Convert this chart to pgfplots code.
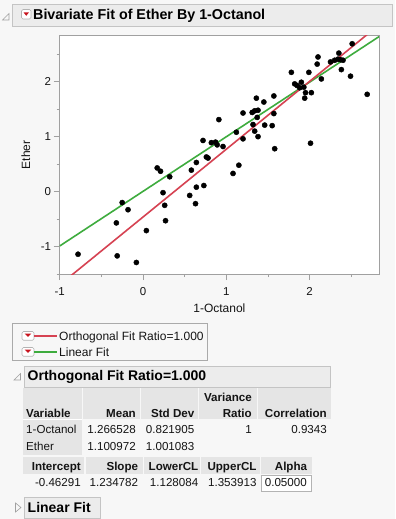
\documentclass[border=0pt]{standalone}
\usepackage{fontspec}
\setmainfont{Liberation Sans}
\usepackage{pgfplots}
\usepackage{pgfplotstable}
\pgfplotsset{compat=1.18}
\definecolor{bg}{RGB}{247,247,247}
\definecolor{hdr}{RGB}{236,236,236}
\definecolor{hdrline}{RGB}{196,196,196}
\definecolor{cell}{RGB}{229,229,229}
\definecolor{framec}{RGB}{160,160,160}
\definecolor{jred}{RGB}{214,66,82}
\definecolor{jgreen}{RGB}{62,172,62}
\definecolor{ddred}{RGB}{200,20,30}
\definecolor{txt}{RGB}{20,20,20}
\newcommand\fs[1]{\fontsize{#1bp}{#1bp}\selectfont}

\pgfplotstableread{
x y
-0.78 -1.14
-0.31 -1.17
-0.08 -1.29
-0.32 -0.57
-0.25 -0.20
-0.18 -0.33
0.04 -0.71
0.17 0.43
0.21 0.37
0.32 0.27
0.24 -0.02
0.26 -0.25
0.27 -0.53
0.56 -0.07
0.58 0.39
0.64 0.53
0.63 -0.22
0.64 0.08
0.73 0.11
0.72 0.93
0.76 0.63
0.78 0.61
0.82 0.89
0.87 0.90
0.89 0.85
0.91 1.31
0.96 0.82
1.08 0.33
1.15 0.48
1.12 1.08
1.20 0.96
1.20 1.43
1.31 1.44
1.34 1.47
1.38 1.48
1.37 1.35
1.36 1.70
1.32 1.22
1.34 1.10
1.38 1.00
1.45 1.63
1.46 1.21
1.55 1.20
1.57 1.74
1.57 1.42
1.58 0.78
1.78 2.17
1.82 1.96
1.85 1.93
1.88 1.89
1.90 1.99
1.93 1.90
1.95 1.80
1.94 1.70
1.99 2.17
2.02 1.80
2.01 0.88
2.09 2.32
2.10 2.45
2.14 2.05
2.25 2.36
2.30 2.39
2.35 2.52
2.34 2.41
2.37 2.40
2.40 2.39
2.38 2.22
2.49 2.10
2.51 2.69
2.69 1.77
}\pts

\begin{document}
\begin{tikzpicture}
\begin{scope}[x=1bp,y=-1bp]
\fill[bg] (0,0) rectangle (395,519);
\path[use as bounding box] (0,0) rectangle (395,519);
% ---- title header
\draw[hdrline,fill=hdr] (12.5,4.5) rectangle (392.5,26.5);
\draw[framec,line width=0.6bp] (2.5,20) -- (9,13.5) -- (9,20) -- cycle;
\draw[framec!80,fill=white,rounded corners=1.5bp,line width=0.6bp] (21.5,9.5) rectangle (31,19);
\fill[ddred] (23.5,12.3) -- (29,12.3) -- (26.25,15.8) -- cycle;
\node[anchor=base west,inner sep=0,text=black] at (33,20) {\fs{14.3}\bfseries Bivariate Fit of Ether By 1-Octanol};
% ---- legend box
\draw[framec!90,fill=bg,line width=0.7bp] (12.5,323.5) rectangle (207.5,360.5);
\foreach \yy in {331.5,347.5}{
  \draw[framec!80,fill=white,rounded corners=1.5bp,line width=0.6bp] (22,\yy) rectangle (34,\yy+8.7);
  \fill[ddred] (24.6,\yy+2) -- (31.4,\yy+2) -- (28,\yy+5.4) -- cycle;
}
\draw[jred,line width=1.6bp] (34.3,335.8) -- (57.3,335.8);
\draw[jgreen,line width=1.6bp] (34.3,351.8) -- (57.3,351.8);
\node[anchor=base west,inner sep=0,text=txt] at (59,340) {\fs{12}Orthogonal Fit Ratio=1.000};
\node[anchor=base west,inner sep=0,text=txt] at (59,356) {\fs{12}Linear Fit};
% ---- orthogonal header
\draw[hdrline,fill=hdr] (24.5,366.5) rectangle (330.5,387);
\draw[framec,line width=0.6bp] (14,380) -- (20.5,373.5) -- (20.5,380) -- cycle;
\node[anchor=base west,inner sep=0,text=black] at (27.5,380.7) {\fs{14}\bfseries Orthogonal Fit Ratio=1.000};
% ---- table 1
\fill[cell] (23,388) rectangle (82,455);
\fill[cell] (83,388) rectangle (140,419);
\fill[cell] (141,388) rectangle (198,419);
\fill[cell] (199,388) rectangle (257,419);
\fill[cell] (258,388) rectangle (331,419);
\draw[white,line width=0.8bp] (23,419.5) -- (82,419.5);
\begin{scope}[every node/.style={inner sep=0,text=txt}]
\node[anchor=base west] at (26,417.3) {\fs{11.6}\bfseries Variable};
\node[anchor=base east] at (136,417.3) {\fs{11.6}\bfseries Mean};
\node[anchor=base east] at (194.5,417.3) {\fs{11.6}\bfseries Std Dev};
\node[anchor=base east] at (252,401.7) {\fs{11.6}\bfseries Variance};
\node[anchor=base east] at (252,417.3) {\fs{11.6}\bfseries Ratio};
\node[anchor=base east] at (327,417.3) {\fs{11.6}\bfseries Correlation};
\node[anchor=base west] at (26,433.3) {\fs{11.6}1-Octanol};
\node[anchor=base east] at (136,433.3) {\fs{11.6}1.266528};
\node[anchor=base east] at (194.5,433.3) {\fs{11.6}0.821905};
\node[anchor=base east] at (252,433.3) {\fs{11.6}1};
\node[anchor=base east] at (327,433.3) {\fs{11.6}0.9343};
\node[anchor=base west] at (26,450.7) {\fs{11.6}Ether};
\node[anchor=base east] at (136,450.7) {\fs{11.6}1.100972};
\node[anchor=base east] at (194.5,450.7) {\fs{11.6}1.001083};
\end{scope}
% ---- table 2
\fill[cell] (23,456.5) rectangle (84,473.5);
\fill[cell] (85.5,456.5) rectangle (143,473.5);
\fill[cell] (144,456.5) rectangle (200,473.5);
\fill[cell] (201,456.5) rectangle (259.5,473.5);
\fill[cell] (261,456.5) rectangle (312,473.5);
\draw[framec!80,fill=white,line width=0.7bp] (261,475) rectangle (311,491.5);
\begin{scope}[every node/.style={inner sep=0,text=txt}]
\node[anchor=base east] at (81,470.7) {\fs{11.6}\bfseries Intercept};
\node[anchor=base east] at (138.3,470.7) {\fs{11.6}\bfseries Slope};
\node[anchor=base east] at (198.5,470.7) {\fs{11.6}\bfseries LowerCL};
\node[anchor=base east] at (256.7,470.7) {\fs{11.6}\bfseries UpperCL};
\node[anchor=base east] at (307.3,470.7) {\fs{11.6}\bfseries Alpha};
\node[anchor=base east] at (81,486.7) {\fs{11.6}-0.46291};
\node[anchor=base east] at (138.3,486.7) {\fs{11.6}1.234782};
\node[anchor=base east] at (198.5,486.7) {\fs{11.6}1.128084};
\node[anchor=base east] at (256.7,486.7) {\fs{11.6}1.353913};
\node[anchor=base east] at (307,486.7) {\fs{11.6}0.05000};
\end{scope}
% ---- linear fit header
\draw[hdrline,fill=hdr] (24.5,497.5) rectangle (100,518.5);
\draw[framec,line width=0.6bp] (15.5,503) -- (21,507.5) -- (15.5,512) -- cycle;
\node[anchor=base west,inner sep=0,text=black] at (27.5,512.7) {\fs{14}\bfseries Linear Fit};
\end{scope}

\begin{axis}[
  at={(59.7bp,-35.7bp)}, anchor=north west,
  scale only axis, width=319.3bp, height=238.3bp,
  xmin=-1, xmax=2.832, ymin=-1.5, ymax=2.837,
  axis background/.style={fill=white},
  axis line style={framec,line width=0.8bp},
  xtick={-1,0,1,2}, xticklabels={-1,0,1,2},
  ytick={-1,0,1,2}, yticklabels={-1,0,1,2},
  minor xtick={-0.5,0.5,1.5,2.5}, minor ytick={-1.5,-0.5,0.5,1.5,2.5},
  tick align=outside, major tick length=6bp, minor tick length=3bp,
  every tick/.style={framec,line width=0.8bp},
  xtick pos=bottom, ytick pos=left,
  ticklabel style={font=\fs{11.5}, text=txt},
  xticklabel style={inner sep=0, yshift=-7bp},
  yticklabel style={inner sep=0, xshift=-2.5bp},
  xlabel={1-Octanol}, ylabel={Ether},
  label style={font=\fs{12}, text=txt, inner sep=0},
  xlabel style={at={(axis description cs:0.5,-0.16)}, anchor=base},
  ylabel style={at={(axis description cs:-0.093,0.5)}, anchor=base},
]
\addplot[only marks, mark=*, mark size=2.6bp, black] table {\pts};
\addplot[jgreen, line width=1.6bp] coordinates {(-1,-0.99) (2.832,2.82)};
\addplot[jred, line width=1.6bp] coordinates {(-1,-1.6977) (2.832,3.0339)};
\end{axis}
\end{tikzpicture}
\end{document}
